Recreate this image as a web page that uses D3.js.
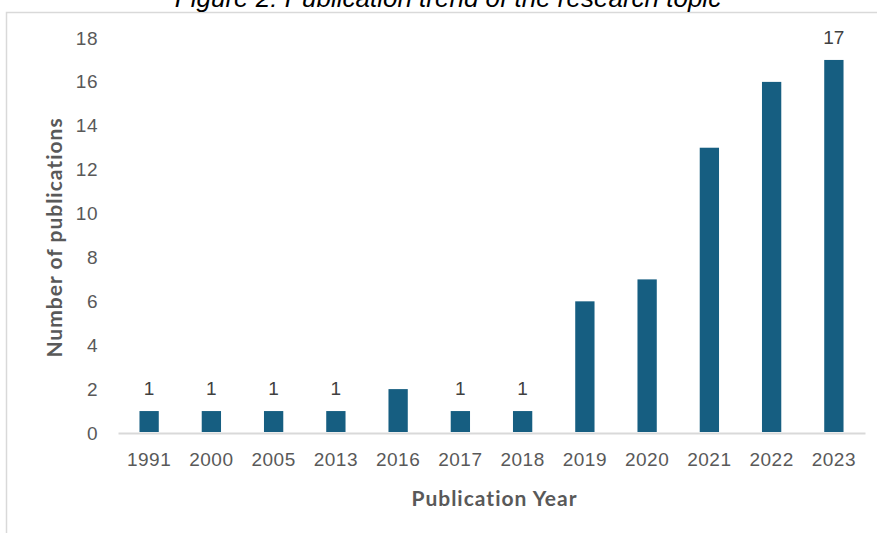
<!DOCTYPE html>
<html>
<head>
<meta charset="utf-8">
<script src="https://cdn.jsdelivr.net/npm/d3@7"></script>
<style>
  body { margin: 0; background: #fff; }
</style>
</head>
<body>
<div class="chart"></div>
<script>
var years = ["1991", "2000", "2005", "2013", "2016", "2017", "2018", "2019", "2020", "2021", "2022", "2023"];
var counts = [1, 1, 1, 1, 2, 1, 1, 6, 7, 13, 16, 17];
// years that carry a value label in the original
var labelled = ["1991", "2000", "2005", "2013", "2017", "2018", "2023"];
var yTicks = [0, 2, 4, 6, 8, 10, 12, 14, 16, 18];

var W = 877, H = 533;
var margin = {top: 38, right: 12, bottom: 100, left: 118},
    width = W - margin.left - margin.right,
    height = H - margin.top - margin.bottom;

var font = '"Liberation Sans", Arial, sans-serif';
var titleFont = 'Lato, "Open Sans", sans-serif';

var root = d3.select('.chart')
  .append("svg")
  .attr("width", W)
  .attr("height", H);

// outer frame (only left and top edges are visible)
root.append("path")
  .attr("d", "M6.5," + H + "V12.5H" + W)
  .attr("fill", "none")
  .attr("stroke", "#d9d9d9")
  .attr("stroke-width", 1.5);

// figure caption, cut off at the top
root.append("text")
  .attr("x", 448)
  .attr("y", 7)
  .attr("text-anchor", "middle")
  .style("font-family", font)
  .style("font-style", "italic")
  .style("font-size", "26px")
  .style("fill", "#000")
  .text("Figure 2: Publication trend of the research topic");

var svg = root.append("g")
  .attr("transform", "translate(" + margin.left + "," + margin.top + ")");

var x = d3.scaleBand()
  .domain(years)
  .range([0, width])
  .paddingInner(0.69)
  .paddingOuter(0.345);

var y = d3.scaleLinear()
  .domain([0, 18])
  .range([height, 0]);

// y axis (labels only)
var yAxis = svg.append("g")
  .call(d3.axisLeft(y).tickValues(yTicks).tickSize(0).tickPadding(20));
yAxis.select(".domain").remove();
yAxis.selectAll("text")
  .style("font-family", font)
  .style("font-size", "19px")
  .style("letter-spacing", "0.5px")
  .style("fill", "#595959");

// x axis
var xAxis = svg.append("g")
  .attr("transform", "translate(0," + height + ")")
  .call(d3.axisBottom(x).tickSize(0).tickPadding(20));
xAxis.select(".domain")
  .attr("stroke", "#d9d9d9")
  .attr("stroke-width", 2);
xAxis.selectAll("text")
  .style("font-family", font)
  .style("font-size", "19px")
  .style("letter-spacing", "0.5px")
  .style("fill", "#595959");

// bars
svg.append("g")
  .selectAll("rect")
  .data(years)
  .enter()
  .append("rect")
    .attr("x", function(d) { return x(d); })
    .attr("y", function(d, i) { return y(counts[i]); })
    .attr("width", x.bandwidth())
    .attr("height", function(d, i) { return height - y(counts[i]) - 1; })
    .attr("fill", "#165e81");

// value labels
svg.append("g")
  .selectAll("text")
  .data(years.filter(function(d) { return labelled.indexOf(d) >= 0; }))
  .enter()
  .append("text")
    .attr("x", function(d) { return x(d) + x.bandwidth() / 2; })
    .attr("y", function(d) { return y(counts[years.indexOf(d)]) - 16; })
    .attr("text-anchor", "middle")
    .style("font-family", font)
    .style("font-size", "19px")
    .style("fill", "#404040")
    .text(function(d) { return counts[years.indexOf(d)]; });

// axis titles
svg.append("text")
  .attr("x", width / 2 + 3)
  .attr("y", height + 73)
  .attr("text-anchor", "middle")
  .style("font-family", titleFont)
  .style("font-weight", "bold")
  .style("font-size", "21px")
  .style("letter-spacing", "1px")
  .style("fill", "#595959")
  .text("Publication Year");

svg.append("text")
  .attr("transform", "translate(" + (-56) + "," + (height / 2 + 2) + ") rotate(-90)")
  .attr("text-anchor", "middle")
  .style("font-family", titleFont)
  .style("font-weight", "bold")
  .style("font-size", "21px")
  .style("letter-spacing", "1px")
  .style("fill", "#595959")
  .text("Number of publications");
</script>
</body>
</html>
